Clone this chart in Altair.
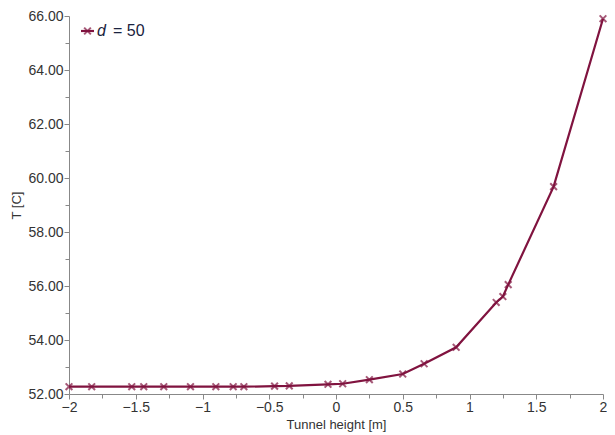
import altair as alt
import pandas as pd

# data
tunnel_height = [-2.0, -1.83, -1.53, -1.44, -1.29, -1.09, -0.90, -0.77, -0.69, -0.46, -0.35,
                 -0.06, 0.05, 0.25, 0.50, 0.66, 0.90, 1.20, 1.25, 1.29, 1.63, 2.0]
temperature = [52.27, 52.27, 52.27, 52.27, 52.27, 52.27, 52.27, 52.27, 52.27, 52.29, 52.30,
               52.36, 52.38, 52.53, 52.74, 53.12, 53.73, 55.39, 55.61, 56.05, 59.68, 65.9]
x_ticks = [-2 + 0.25 * i for i in range(17)]
y_ticks = list(range(52, 67))
legend_var = "d"
legend_rest = "= 50"

COLOR = "#80133f"
FONT = "Liberation Sans"
TXT = "#333333"

df = pd.DataFrame({"h": tunnel_height, "T": temperature})

xaxis = alt.Axis(values=x_ticks, format="~g",
                 labelExpr="datum.value % 0.5 === 0 ? datum.label : ''",
                 tickSize={"condition": {"test": "datum.value % 0.5 === 0", "value": 5}, "value": 4},
                 title="Tunnel height [m]", grid=False, domainColor="#888", tickColor="#888",
                 labelColor=TXT, titleColor=TXT, labelFont=FONT, titleFont=FONT,
                 labelFontSize=14, titleFontSize=13, titleFontWeight="normal", labelPadding=1,
                 titlePadding=4, labelFlush=False)
yaxis = alt.Axis(values=y_ticks, format=".2f",
                 labelExpr="datum.value % 2 === 0 ? datum.label : ''",
                 tickSize={"condition": {"test": "datum.value % 2 === 0", "value": 5}, "value": 4},
                 title="T [C]", grid=False, domainColor="#888", tickColor="#888",
                 labelColor=TXT, titleColor=TXT, labelFont=FONT, titleFont=FONT,
                 labelFontSize=14, titleFontSize=13, titleFontWeight="normal", labelPadding=1,
                 titlePadding=4)

x = alt.X("h:Q", scale=alt.Scale(domain=[-2, 2], nice=False), axis=xaxis)
y = alt.Y("T:Q", scale=alt.Scale(domain=[52, 66], nice=False), axis=yaxis)

line = alt.Chart(df).mark_line(color=COLOR, strokeWidth=2.2).encode(x=x, y=y)
pts = alt.Chart(df).mark_point(shape="M-1,-1L1,1M-1,1L1,-1", size=45, color=COLOR,
                               strokeWidth=2, filled=False).encode(x=x, y=y)

one = pd.DataFrame({"k": [0]})
leg_line = alt.Chart(one).mark_rule(color=COLOR, strokeWidth=2.2).encode(
    x=alt.value(12), x2=alt.value(25), y=alt.value(15))
leg_pt = alt.Chart(one).mark_point(shape="M-1,-1L1,1M-1,1L1,-1", size=45, color=COLOR,
                                   strokeWidth=2, filled=False).encode(
    x=alt.value(18.5), y=alt.value(15))
leg_d = alt.Chart(pd.DataFrame({"t": [legend_var]})).mark_text(
    align="left", baseline="middle", font=FONT, fontSize=16, fontStyle="italic",
    color="#1a2340").encode(x=alt.value(28), y=alt.value(15), text="t:N")
leg_rest = alt.Chart(pd.DataFrame({"t": [legend_rest]})).mark_text(
    align="left", baseline="middle", font=FONT, fontSize=16,
    color="#1a2340").encode(x=alt.value(44), y=alt.value(15), text="t:N")

chart = alt.layer(line, pts, leg_line, leg_pt, leg_d, leg_rest).properties(
    width=534, height=378,
    autosize=alt.AutoSizeParams(type="none"),
    padding={"left": 61, "top": 8, "right": 4, "bottom": 42},
).configure_view(stroke=None)

chart.save("out.html", embed_options={"renderer": "svg", "actions": False})
